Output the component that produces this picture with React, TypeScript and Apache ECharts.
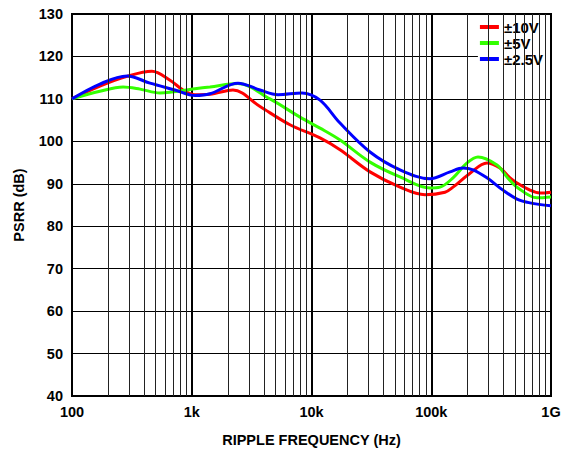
import React, { useEffect, useRef } from 'react';
import * as echarts from 'echarts';

const X_TICK_LABELS = ['100', '1k', '10k', '100k', '1G'];
const DECADES = [100, 1000, 10000, 100000];
const MINOR_MULTIPLIERS = [2, 3, 4, 5, 6, 7, 8, 9];

const SERIES_NAMES = ['±10V', '±5V', '±2.5V'];
const SERIES_COLORS = ['#ff0000', '#33ff00', '#0000ff'];

const FREQ_10V = [100, 171, 288, 465, 658, 845, 1064, 1419, 2208, 3715, 6607, 11780, 17300, 30800, 54800, 88700, 130300, 152000, 211000, 292000, 375000, 455000, 520000, 668000, 809000, 1000000];
const PSRR_10V = [110, 113, 115.3, 116.5, 114.4, 112.1, 111.0, 111.1, 112.1, 108.2, 103.9, 100.8, 98, 92.8, 89.2, 87.4, 88, 89.2, 92.5, 94.9, 93.7, 91.4, 90.2, 88.5, 87.8, 88];

const FREQ_5V = [100, 171, 267, 370, 543, 1064, 1419, 2432, 4500, 8017, 11780, 17300, 30800, 54800, 97700, 118400, 152000, 199000, 245600, 354000, 429000, 520000, 764000, 1000000];
const PSRR_5V = [110, 111.8, 112.8, 112.3, 111.4, 112.4, 112.8, 113.6, 110, 105.7, 103.1, 100.3, 95.1, 91.6, 89, 89.2, 91.4, 94.9, 96.3, 94.4, 91.6, 89.2, 86.7, 86.9];

const FREQ_2V5 = [100, 171, 288, 448, 725, 1064, 1419, 2432, 3715, 5250, 8330, 11780, 17300, 30800, 54800, 97700, 143500, 184000, 223000, 292000, 397000, 520000, 668000, 1000000];
const PSRR_2V5 = [110, 113.5, 115.4, 113.7, 112.1, 110.8, 111.2, 113.7, 112.1, 111.0, 111.4, 109.7, 104.3, 97.5, 93.3, 91.2, 92.8, 93.7, 93.3, 91.4, 88.5, 86.4, 85.5, 84.8];

const FONT = "'Liberation Sans', Arial, Helvetica, sans-serif";

function pairs(f: number[], v: number[]) {
  return f.map((x, i) => [x, v[i]]);
}

export default function App() {
  const ref = useRef<HTMLDivElement>(null);
  useEffect(() => {
    if (!ref.current) return;
    const chart = echarts.init(ref.current, undefined, { renderer: 'svg' });
    const minorFreqs: number[] = [];
    DECADES.forEach((d) => MINOR_MULTIPLIERS.forEach((m) => minorFreqs.push(d * m)));
    const datasets = [pairs(FREQ_10V, PSRR_10V), pairs(FREQ_5V, PSRR_5V), pairs(FREQ_2V5, PSRR_2V5)];
    chart.setOption({
      animation: false,
      backgroundColor: '#ffffff',
      grid: {
        left: 72, right: 28, top: 14, bottom: 58,
        show: true, borderColor: '#000', borderWidth: 2, backgroundColor: 'transparent',
      },
      legend: {
        data: SERIES_NAMES,
        orient: 'vertical',
        right: 29,
        top: 15,
        icon: 'rect',
        itemWidth: 19,
        itemHeight: 4,
        itemGap: 0,
        padding: [4, 7, 6, 2],
        backgroundColor: '#ffffff',
        textStyle: { fontSize: 15, fontWeight: 'bold', color: '#000', fontFamily: FONT, lineHeight: 16 },
      },
      xAxis: {
        type: 'log',
        logBase: 10,
        min: 100,
        max: 1000000,
        name: 'RIPPLE FREQUENCY (Hz)',
        nameLocation: 'middle',
        nameGap: 36,
        nameTextStyle: { fontSize: 14.5, fontWeight: 'bold', color: '#000', fontFamily: FONT },
        axisLine: { show: true, lineStyle: { color: '#000', width: 2 } },
        axisTick: { show: false },
        axisLabel: {
          fontSize: 14.5, fontWeight: 'bold', color: '#000', fontFamily: FONT, margin: 8,
          formatter: (v: number) => X_TICK_LABELS[Math.round(Math.log10(v)) - 2] ?? '',
        },
        splitLine: { show: true, lineStyle: { color: '#000', width: 2 } },
      },
      yAxis: {
        type: 'value',
        min: 40,
        max: 130,
        interval: 10,
        name: 'PSRR (dB)',
        nameLocation: 'middle',
        nameGap: 46,
        nameRotate: 90,
        nameTextStyle: { fontSize: 14.5, fontWeight: 'bold', color: '#000', fontFamily: FONT },
        axisLine: { show: true, lineStyle: { color: '#000', width: 2 } },
        axisTick: { show: false },
        axisLabel: { fontSize: 14.5, fontWeight: 'bold', color: '#000', fontFamily: FONT, margin: 9 },
        splitLine: { show: true, lineStyle: { color: '#000', width: 1.2 } },
      },
      series: [
        {
          name: '_grid',
          type: 'line',
          data: [[100, 40]],
          showSymbol: false,
          silent: true,
          z: 1,
          lineStyle: { opacity: 0 },
          markLine: {
            silent: true,
            symbol: ['none', 'none'],
            label: { show: false },
            lineStyle: { color: '#222', width: 1, type: 'solid' },
            data: minorFreqs.map((f) => ({ xAxis: f })),
          },
        },
        ...SERIES_NAMES.map((name, i) => ({
          name,
          type: 'line',
          data: datasets[i],
          smooth: 0.35,
          showSymbol: false,
          z: 3,
          color: SERIES_COLORS[i],
          lineStyle: { color: SERIES_COLORS[i], width: 3 },
        })),
      ],
    });
    return () => chart.dispose();
  }, []);
  return (
    <div
      ref={ref}
      style={{ position: 'fixed', left: 0, top: 0, width: 579, height: 454, background: '#fff' }}
    />
  );
}
